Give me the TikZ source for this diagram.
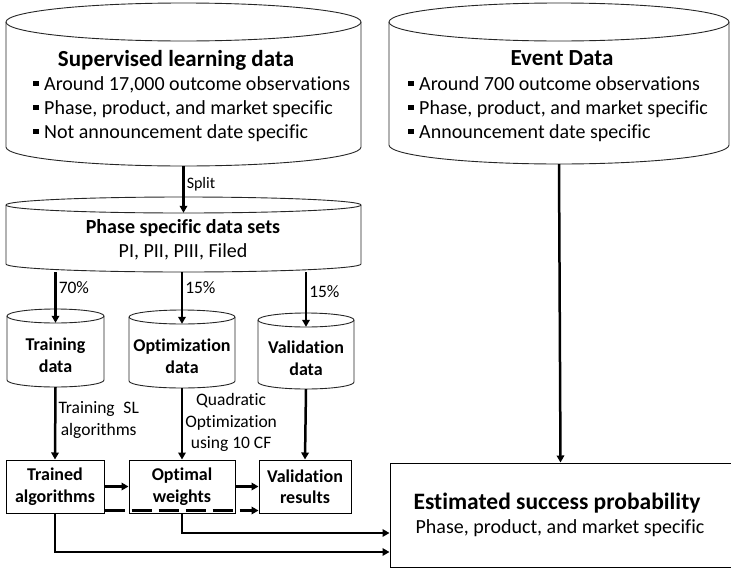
\documentclass[tikz,border=0pt]{standalone}
\usepackage{fontspec}
\setmainfont{Carlito}[Ligatures={NoCommon}]
\usetikzlibrary{arrows.meta}

% square bullet for the list items
\newcommand\sqbullet{\makebox[11pt][l]{\rule[4pt]{5.5pt}{5.5pt}}}

% database cylinder: name, left, right, top, bottom, ellipse radius
\newcommand\dbcyl[6]{%
  \path[cylline,fill=white] (#2,{#4+#6}) -- (#2,{#5-#6})
    arc[start angle=180,end angle=0,x radius={(#3-#2)/2},y radius=#6]
    -- (#3,{#4+#6})
    arc[start angle=0,end angle=-180,x radius={(#3-#2)/2},y radius=#6] -- cycle;
  \path[cylline] (#2,{#4+#6})
    arc[start angle=180,end angle=0,x radius={(#3-#2)/2},y radius=#6];
  \node[inner sep=0pt,minimum width={(#3-#2)*1pt},minimum height={(#5-#4-2*#6)*1pt}]
    (#1) at ({(#2+#3)/2},{(#4+2*#6+#5)/2}) {};
}

\tikzset{
  cylline/.style={draw=black!85,line width=0.9pt},
  box/.style={draw=black,line width=1pt,fill=white,inner sep=0pt},
  arr/.style={line width=2.5pt,-{Triangle[length=7pt,width=7.5pt]}},
  dasharr/.style={arr,dash pattern=on 20pt off 7pt},
  head/.style={font=\fontsize{23}{27}\selectfont\bfseries},
  esthead/.style={font=\fontsize{23.5}{27}\selectfont\bfseries},
  subhead/.style={font=\fontsize{20}{24}\selectfont\bfseries},
  body/.style={font=\fontsize{20}{24}\selectfont},
  small/.style={font=\fontsize{18}{21.5}\selectfont\bfseries,align=center},
  lbl/.style={font=\fontsize{17.5}{21.5}\selectfont,align=center,inner sep=2pt},
  splitlbl/.style={lbl,font=\fontsize{16}{19}\selectfont},
}

\begin{document}
\begin{tikzpicture}[x=1pt,y=-1pt]
  \useasboundingbox (0,0) rectangle (731,568);

  % data stores
  \dbcyl{sl}{6}{361}{3}{166}{19}
  \dbcyl{ev}{389}{729}{3}{164}{19}
  \dbcyl{psd}{6}{361}{197}{272}{8}
  \dbcyl{trd}{7}{104}{309}{387}{7}
  \dbcyl{opd}{129}{235}{310}{388}{7}
  \dbcyl{vad}{258}{354}{313}{389}{7}

  % store contents
  \node[head] (slh) at (176,60) {Supervised learning data};
  \node[body,anchor=west,align=left,inner sep=0pt] (slb) at (33,109)
    {\sqbullet Around 17,000 outcome observations\\
     \sqbullet Phase, product, and market specific\\
     \sqbullet Not announcement date specific};
  \node[head] (evh) at (562,58) {Event Data};
  \node[body,anchor=west,align=left,inner sep=0pt] (evb) at (408,109)
    {\sqbullet Around 700 outcome observations\\
     \sqbullet Phase, product, and market specific\\
     \sqbullet Announcement date specific};
  \node[subhead] (psdh) at (183,228) {Phase specific data sets};
  \node[body] (psdb) at (183,252) {PI, PII, PIII, Filed};
  \node[small] (trdt) at (trd.center) {Training\\data};
  \node[small] (opdt) at (opd.center) {Optimization\\data};
  \node[small] (vadt) at (vad.center) {Validation\\data};

  % result boxes
  \node[box,small,minimum width=98pt,minimum height=53pt] (tra) at (55,486.5) {Trained\\algorithms};
  \node[box,small,minimum width=106pt,minimum height=53pt] (opw) at (182,486.5) {Optimal\\weights};
  \node[box,small,minimum width=92pt,minimum height=53pt] (var) at (305,486.5) {Validation\\results};
  \node[box,minimum width=341pt,minimum height=104pt] (est) at (560.5,515) {};
  \node[esthead] (esth) at (557,503) {Estimated success probability};
  \node[body] (estb) at (560,528) {Phase, product, and market specific};

  % flow
  \draw[arr] (sl.south) -- node[splitlbl,pos=0.38,right] (splt) {Split} (psd.north);
  \draw[arr] (psd.south -| trd.north) -- node[lbl,pos=0.3,right] (p70) {70\%} (trd.north);
  \draw[arr] (psd.south -| opd.north) -- node[lbl,pos=0.3,right] (p15a) {15\%} (opd.north);
  \draw[arr] (psd.south -| vad.north) -- node[lbl,pos=0.35,right] (p15b) {15\%} (vad.north);
  \draw[arr] (trd.south) -- node[lbl,pos=0.45,right] (tsl) {Training\enspace SL\\algorithms} (tra.north);
  \draw[arr] (opd.south) -- node[lbl,pos=0.48,right] (qo) {Quadratic\\Optimization\\using 10 CF} (opw.north);
  \draw[arr] (vad.south) -- (var.north);
  \draw[arr] (tra.east) -- (opw.west);
  \draw[arr] (opw.east) -- (var.west);
  \draw[dasharr] ([yshift=3pt]tra.south east) -- ([yshift=3pt]var.south west);
  \draw[arr] (opw.south) |- ([yshift=-18pt]est.west);
  \draw[arr] (tra.south) |- ([yshift=-37pt]est.west);
  \draw[arr] (ev.south) -- (est.north);
\end{tikzpicture}
\end{document}
